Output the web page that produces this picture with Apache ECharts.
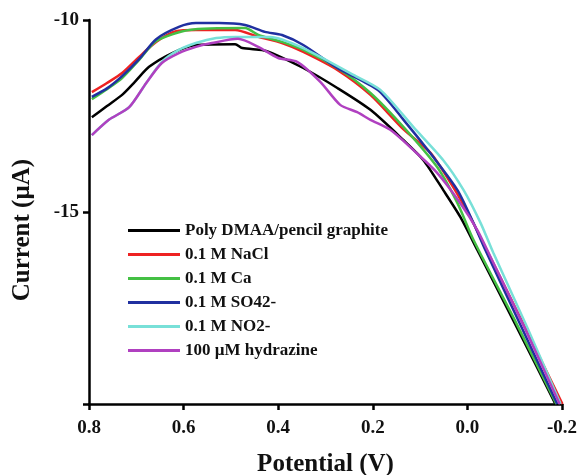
<!DOCTYPE html>
<html>
<head>
<meta charset="utf-8">
<script src="https://cdn.jsdelivr.net/npm/echarts@6/dist/echarts.min.js"></script>
<style>html,body{margin:0;padding:0;background:#fff}#c{width:580px;height:475px}</style>
</head>
<body>
<div id="c"></div>
<script>
const seriesNames = ['Poly DMAA/pencil graphite','0.1 M NaCl','0.1 M Ca','0.1 M SO42-','0.1 M NO2-','100 \u00b5M hydrazine'];
const xTicks = [0.8, 0.6, 0.4, 0.2, 0.0, -0.2];
const yTicks = [-10, -15];

const polyDMAA = [[0.794,-12.53],[0.762,-12.24],[0.730,-11.95],[0.703,-11.61],[0.673,-11.22],[0.624,-10.86],[0.574,-10.65],[0.491,-10.63],[0.476,-10.73],[0.434,-10.78],[0.413,-10.86],[0.347,-11.25],[0.275,-11.77],[0.205,-12.34],[0.135,-13.13],[0.093,-13.65],[0.051,-14.43],[0.015,-15.13],[-0.021,-15.99],[-0.104,-17.99],[-0.186,-20.0]];
const naCl = [[0.794,-11.88],[0.762,-11.64],[0.730,-11.38],[0.694,-10.96],[0.658,-10.57],[0.616,-10.29],[0.574,-10.26],[0.491,-10.26],[0.442,-10.44],[0.392,-10.60],[0.347,-10.83],[0.275,-11.30],[0.205,-11.95],[0.135,-12.85],[0.078,-13.46],[0.030,-14.35],[-0.006,-15.13],[-0.027,-15.65],[-0.114,-17.81],[-0.201,-20.0]];
const ca = [[0.794,-12.06],[0.762,-11.80],[0.730,-11.51],[0.694,-11.04],[0.658,-10.55],[0.588,-10.26],[0.470,-10.21],[0.442,-10.39],[0.392,-10.57],[0.347,-10.78],[0.275,-11.25],[0.205,-11.90],[0.135,-12.79],[0.064,-13.83],[0.021,-14.77],[-0.013,-15.73],[-0.102,-17.86],[-0.188,-20.0]];
const so4 = [[0.794,-12.0],[0.762,-11.78],[0.730,-11.46],[0.694,-11.02],[0.658,-10.50],[0.610,-10.18],[0.574,-10.08],[0.525,-10.08],[0.470,-10.13],[0.428,-10.31],[0.392,-10.39],[0.347,-10.65],[0.275,-11.25],[0.190,-11.82],[0.135,-12.60],[0.072,-13.57],[0.021,-14.43],[-0.013,-15.29],[-0.038,-15.99],[-0.114,-17.99],[-0.190,-20.0]];
const no2 = [[0.794,-13.0],[0.758,-12.60],[0.715,-12.27],[0.679,-11.64],[0.646,-11.09],[0.610,-10.78],[0.574,-10.60],[0.531,-10.47],[0.491,-10.44],[0.417,-10.44],[0.347,-10.73],[0.241,-11.43],[0.184,-11.82],[0.114,-12.79],[0.051,-13.65],[0.008,-14.43],[-0.028,-15.29],[-0.055,-16.07],[-0.127,-18.02],[-0.197,-20.0]];
const hydrazine = [[0.794,-13.0],[0.758,-12.60],[0.715,-12.27],[0.679,-11.64],[0.646,-11.12],[0.610,-10.86],[0.574,-10.70],[0.540,-10.60],[0.485,-10.49],[0.442,-10.70],[0.400,-10.99],[0.360,-11.09],[0.311,-11.61],[0.269,-12.21],[0.233,-12.40],[0.205,-12.60],[0.163,-12.86],[0.114,-13.39],[0.064,-13.98],[0.015,-14.77],[-0.021,-15.47],[-0.049,-16.17],[-0.123,-18.07],[-0.195,-20.0]];

const allData = [polyDMAA, naCl, ca, so4, no2, hydrazine];
const colors = ['#000000','#ee2222','#44c044','#2030a0','#78e0d8','#b040c0'];
const font = "'Liberation Serif','Times New Roman',serif";

const chart = echarts.init(document.getElementById('c'));
chart.setOption({
  animation: false,
  backgroundColor: '#fff',
  color: colors,
  grid: { left: 89, top: 20, right: 18, bottom: 71, containLabel: false, outerBoundsMode: 'none' },
  legend: {
    orient: 'vertical', left: 128, top: 222, padding: 0,
    itemWidth: 52, itemHeight: 3, itemGap: 7, icon: 'rect',
    textStyle: { fontFamily: font, fontWeight: 'bold', fontSize: 17, color: '#111', lineHeight: 16 },
    data: seriesNames
  },
  xAxis: {
    type: 'value', inverse: true, min: -0.2, max: 0.8, interval: 0.2,
    name: 'Potential (V)', nameLocation: 'middle', nameGap: 48,
    nameTextStyle: { fontFamily: font, fontWeight: 'bold', fontSize: 25, color: '#111' },
    axisLine: { show: true, lineStyle: { color: '#000', width: 2.5 } },
    axisTick: { show: true, length: 6, lineStyle: { color: '#000', width: 2.5 } },
    axisLabel: { fontFamily: font, fontWeight: 'bold', fontSize: 19, color: '#111', margin: 15,
      formatter: v => xTicks.some(t => Math.abs(t - v) < 1e-9) ? v.toFixed(1) : '' },
    splitLine: { show: false }
  },
  yAxis: {
    type: 'value', min: -20, max: -10, interval: 5,
    name: 'Current (\u00b5A)', nameLocation: 'middle', nameGap: 54,
    nameTextStyle: { fontFamily: font, fontWeight: 'bold', fontSize: 25, color: '#111', padding: [0, 36, 0, 0] },
    axisLine: { show: true, onZero: false, lineStyle: { color: '#000', width: 2.5 } },
    axisTick: { show: true, length: 6, lineStyle: { color: '#000', width: 2.5 } },
    axisLabel: { fontFamily: font, fontWeight: 'bold', fontSize: 19, color: '#111', margin: 10,
      formatter: v => yTicks.includes(v) ? String(v) : '' },
    splitLine: { show: false }
  },
  series: allData.map((d, i) => ({
    name: seriesNames[i], type: 'line', data: d, showSymbol: false, symbol: 'none',
    smooth: 0.25, lineStyle: { width: 2.5, color: colors[i] }, itemStyle: { color: colors[i] }
  }))
});
</script>
</body>
</html>
